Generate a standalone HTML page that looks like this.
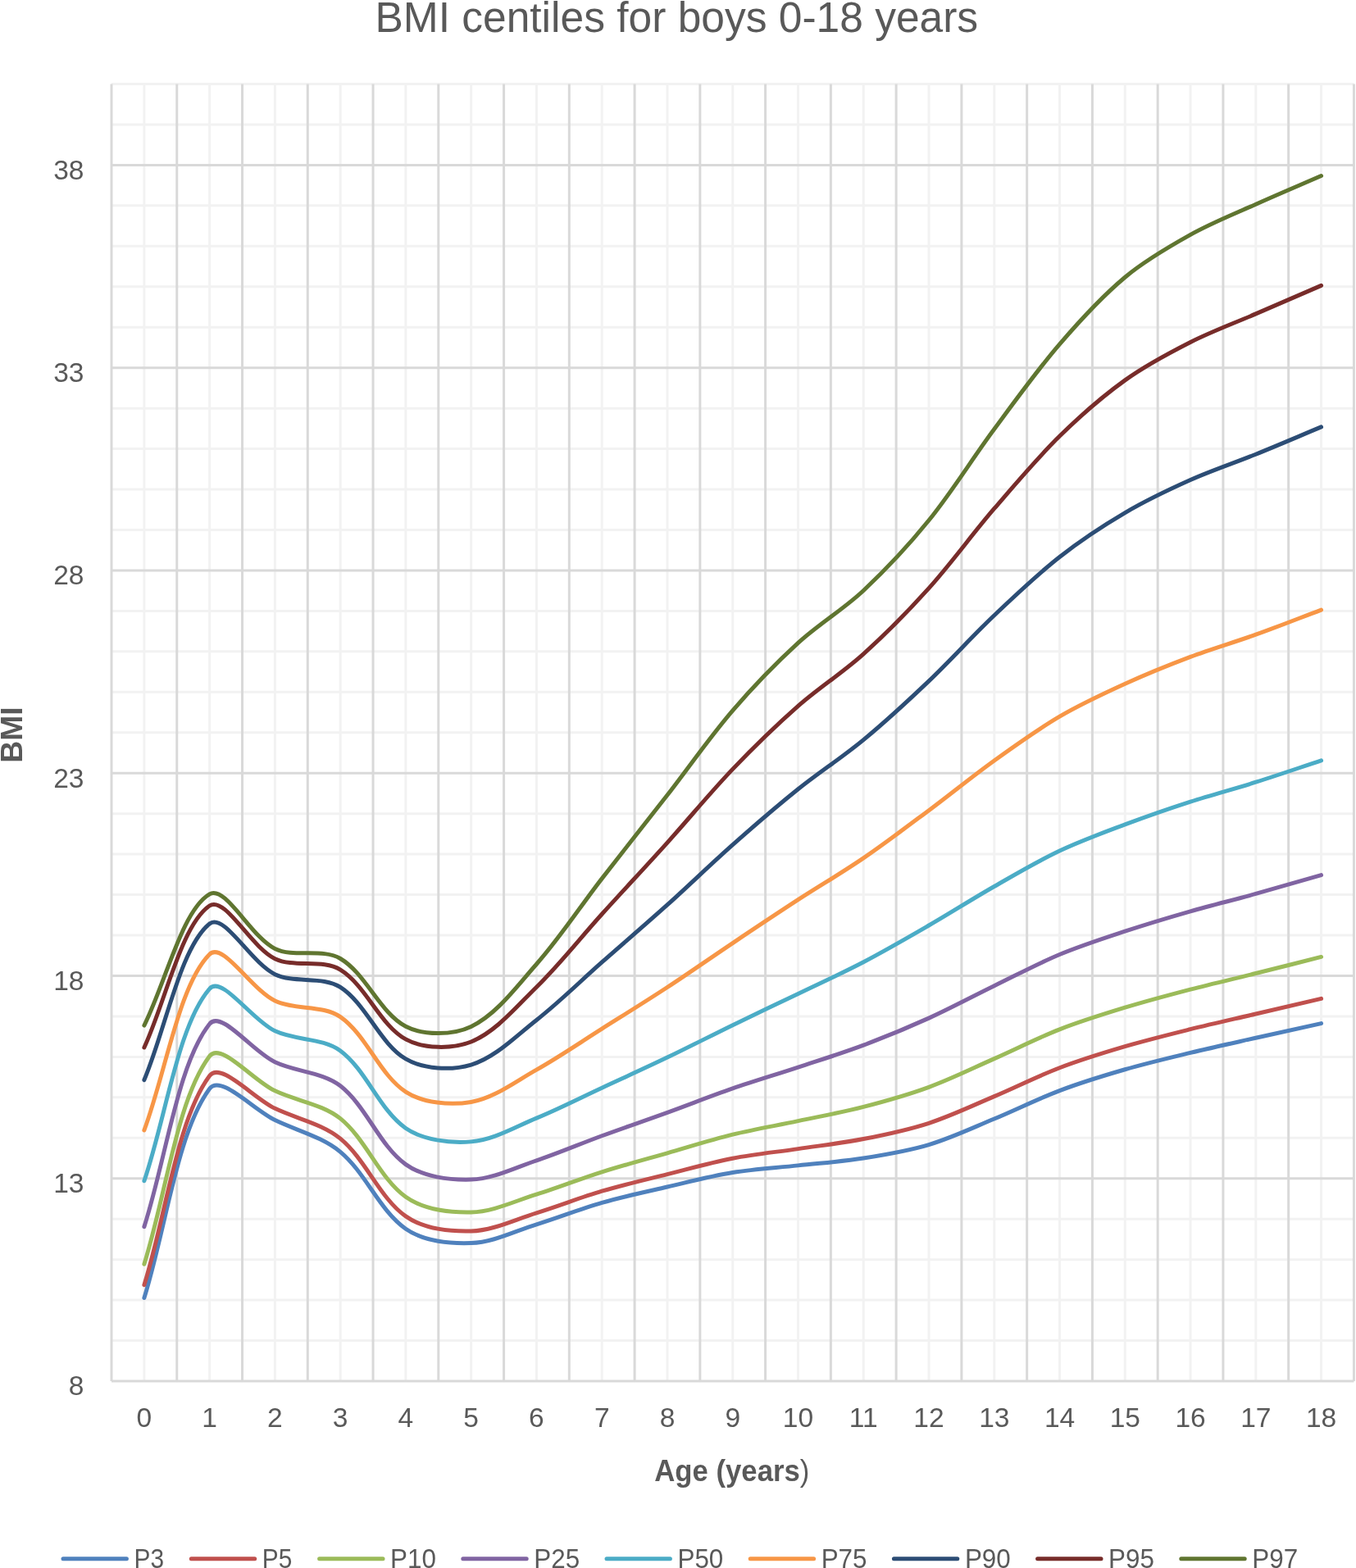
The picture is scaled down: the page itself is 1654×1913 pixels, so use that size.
<!DOCTYPE html>
<html lang="en"><head><meta charset="utf-8"><title>BMI centiles for boys 0-18 years</title>
<style>html,body{margin:0;padding:0;background:#fff}body{width:1654px;height:1913px;overflow:hidden}svg{display:block}text{font-family:"Liberation Sans",sans-serif;fill:#595959}</style></head><body>
<svg width="1654" height="1913" viewBox="0 0 1654 1913">
<rect width="1654" height="1913" fill="#fff"/>
<path d="M136 1635.55H1651.44M136 1586.09H1651.44M136 1536.64H1651.44M136 1487.19H1651.44M136 1388.28H1651.44M136 1338.83H1651.44M136 1289.38H1651.44M136 1239.92H1651.44M136 1141.02H1651.44M136 1091.56H1651.44M136 1042.11H1651.44M136 992.66H1651.44M136 893.75H1651.44M136 844.3H1651.44M136 794.85H1651.44M136 745.39H1651.44M136 646.49H1651.44M136 597.03H1651.44M136 547.58H1651.44M136 498.13H1651.44M136 399.22H1651.44M136 349.77H1651.44M136 300.32H1651.44M136 250.86H1651.44M136 151.96H1651.44M136 102.5H1651.44M175.88 102.5V1685M255.64 102.5V1685M335.4 102.5V1685M415.16 102.5V1685M494.92 102.5V1685M574.68 102.5V1685M654.44 102.5V1685M734.2 102.5V1685M813.96 102.5V1685M893.72 102.5V1685M973.48 102.5V1685M1053.24 102.5V1685M1133 102.5V1685M1212.76 102.5V1685M1292.52 102.5V1685M1372.28 102.5V1685M1452.04 102.5V1685M1531.8 102.5V1685M1611.56 102.5V1685" fill="none" stroke="#F2F2F2" stroke-width="3"/>
<path d="M136 1685H1651.44M136 1437.73H1651.44M136 1190.47H1651.44M136 943.2H1651.44M136 695.94H1651.44M136 448.67H1651.44M136 201.41H1651.44M136 102.5V1685M215.76 102.5V1685M295.52 102.5V1685M375.28 102.5V1685M455.04 102.5V1685M534.8 102.5V1685M614.56 102.5V1685M694.32 102.5V1685M774.08 102.5V1685M853.84 102.5V1685M933.6 102.5V1685M1013.36 102.5V1685M1093.12 102.5V1685M1172.88 102.5V1685M1252.64 102.5V1685M1332.4 102.5V1685M1412.16 102.5V1685M1491.92 102.5V1685M1571.68 102.5V1685M1651.44 102.5V1685" fill="none" stroke="#D9D9D9" stroke-width="3"/>
<path d="M175.88 1583.5C202.47 1498.41 215.69 1382.58 255.64 1328.23C268.86 1310.25 308.85 1353.69 335.4 1366.53C362.02 1379.4 392.9 1386.84 415.16 1405.36C446.07 1431.08 462.94 1476.93 494.92 1499.23C516.11 1514.01 548.31 1517.52 574.68 1516.62C601.48 1515.71 628.02 1501.96 654.44 1493.8C681.2 1485.53 707.3 1475.05 734.2 1467.33C760.47 1459.8 787.31 1454.18 813.96 1448.04C840.48 1441.93 866.9 1434.98 893.72 1430.58C920.07 1426.26 946.9 1424.8 973.48 1421.88C1000.07 1418.96 1026.85 1417.25 1053.24 1413.07C1080.02 1408.83 1107.1 1404.42 1133 1396.62C1160.28 1388.41 1186.34 1375.99 1212.76 1365.05C1239.52 1353.98 1265.46 1340.81 1292.52 1330.59C1318.63 1320.72 1345.45 1312.54 1372.28 1304.77C1398.62 1297.15 1425.37 1290.85 1452.04 1284.41C1478.54 1278.02 1505.2 1272.24 1531.8 1266.26C1558.37 1260.3 1584.97 1254.48 1611.56 1248.58" fill="none" stroke="#4F81BD" stroke-width="5" stroke-linecap="round" stroke-linejoin="round"/>
<path d="M175.88 1567.71C202.47 1482.64 215.76 1366.35 255.64 1312.52C268.94 1294.57 308.62 1339.49 335.4 1352.36C361.79 1365.03 393.1 1370.96 415.16 1389.16C446.27 1414.81 462.89 1461.26 494.92 1483.91C516.07 1498.87 548.25 1502.65 574.68 1501.98C601.43 1501.29 628.06 1487.88 654.44 1479.82C681.23 1471.63 707.34 1461.17 734.2 1453.22C760.52 1445.43 787.32 1439.26 813.96 1432.58C840.5 1425.93 866.89 1418.44 893.72 1413.23C920.07 1408.11 946.9 1405.54 973.48 1401.6C1000.08 1397.66 1026.88 1394.74 1053.24 1389.56C1080.06 1384.29 1107.06 1378.71 1133 1370.26C1160.24 1361.39 1186.31 1348.8 1212.76 1337.61C1239.48 1326.3 1265.45 1313.09 1292.52 1302.75C1318.62 1292.78 1345.46 1284.59 1372.28 1276.68C1398.64 1268.9 1425.36 1262.32 1452.04 1255.69C1478.54 1249.09 1505.21 1243.21 1531.8 1236.99C1558.38 1230.78 1584.97 1224.6 1611.56 1218.4" fill="none" stroke="#C0504D" stroke-width="5" stroke-linecap="round" stroke-linejoin="round"/>
<path d="M175.88 1542.28C202.47 1457.71 215.94 1341.18 255.64 1288.57C269.12 1270.7 308.26 1317.91 335.4 1330.86C361.44 1343.28 393.34 1346.95 415.16 1364.65C446.52 1390.09 462.85 1437.29 494.92 1460.27C516.02 1475.39 548.22 1479.46 574.68 1478.94C601.39 1478.42 628.11 1465.24 654.44 1457.14C681.28 1448.89 707.41 1438.33 734.2 1429.88C760.59 1421.55 787.35 1414.43 813.96 1406.81C840.53 1399.19 866.9 1390.75 893.72 1384.17C920.07 1377.7 946.92 1373.29 973.48 1367.66C1000.09 1362.01 1026.93 1357.16 1053.24 1350.34C1080.1 1343.37 1106.99 1335.86 1133 1326.28C1160.16 1316.28 1186.24 1303.31 1212.76 1291.6C1239.41 1279.84 1265.42 1266.47 1292.52 1255.87C1318.59 1245.68 1345.48 1237.41 1372.28 1229.23C1398.65 1221.17 1425.35 1214.12 1452.04 1207.14C1478.53 1200.22 1505.23 1194.15 1531.8 1187.54C1558.41 1180.92 1584.97 1174.14 1611.56 1167.45" fill="none" stroke="#9BBB59" stroke-width="5" stroke-linecap="round" stroke-linejoin="round"/>
<path d="M175.88 1496.62C202.47 1414.14 216.41 1298.58 255.64 1249.18C269.58 1231.63 307.69 1282.62 335.4 1295.76C360.87 1307.83 393.62 1307.96 415.16 1324.82C446.79 1349.58 462.82 1397.64 494.92 1420.64C516 1435.74 548.29 1439.92 574.68 1439.12C601.46 1438.31 628.19 1424.6 654.44 1415.82C681.37 1406.81 707.52 1395.53 734.2 1385.75C760.7 1376.04 787.43 1366.95 813.96 1357.34C840.6 1347.69 866.95 1337.23 893.72 1327.96C920.12 1318.82 946.95 1310.9 973.48 1302.12C1000.12 1293.3 1026.99 1285.02 1053.24 1275.14C1080.16 1265.02 1106.81 1254 1133 1242.11C1159.98 1229.86 1186.1 1215.7 1212.76 1202.73C1239.27 1189.84 1265.35 1175.87 1292.52 1164.53C1318.53 1153.69 1345.49 1145.04 1372.28 1136.19C1398.67 1127.47 1425.32 1119.51 1452.04 1111.85C1478.5 1104.26 1505.28 1097.82 1531.8 1090.45C1558.45 1083.06 1584.97 1075.2 1611.56 1067.58" fill="none" stroke="#8064A2" stroke-width="5" stroke-linecap="round" stroke-linejoin="round"/>
<path d="M175.88 1440.77C202.47 1362.61 217.21 1250.35 255.64 1206.28C270.38 1189.38 307.08 1244.41 335.4 1257.86C360.25 1269.66 393.74 1266.11 415.16 1282.03C446.92 1305.63 462.87 1354.16 494.92 1376.43C516.04 1391.11 548.63 1394.88 574.68 1392.87C601.8 1390.77 628.33 1374.85 654.44 1364.1C681.5 1352.96 707.63 1339.54 734.2 1327.22C760.8 1314.88 787.53 1302.81 813.96 1290.12C840.7 1277.29 867.05 1263.62 893.72 1250.63C920.22 1237.73 946.93 1225.24 973.48 1212.44C1000.1 1199.6 1027.06 1187.4 1053.24 1173.71C1080.23 1159.59 1106.62 1144.28 1133 1129.03C1159.79 1113.54 1185.88 1096.83 1212.76 1081.5C1239.06 1066.5 1265.2 1050.97 1292.52 1038.03C1318.38 1025.77 1345.46 1015.98 1372.28 1005.9C1398.63 996.01 1425.26 986.79 1452.04 978.12C1478.44 969.57 1505.33 962.57 1531.8 954.22C1558.51 945.81 1584.97 936.64 1611.56 927.85" fill="none" stroke="#4BACC6" stroke-width="5" stroke-linecap="round" stroke-linejoin="round"/>
<path d="M175.88 1378.94C202.47 1307.36 218.39 1201.1 255.64 1164.22C271.56 1148.46 306.48 1207.16 335.4 1221.01C359.66 1232.62 393.7 1225.66 415.16 1240.6C446.87 1262.68 462.99 1311.26 494.92 1332.05C516.16 1345.88 549.38 1348.75 574.68 1344.47C602.56 1339.76 628.6 1319.56 654.44 1305.09C681.78 1289.78 707.66 1271.86 734.2 1255.13C760.83 1238.34 787.63 1221.79 813.96 1204.53C840.8 1186.94 867.05 1168.43 893.72 1150.56C920.22 1132.81 946.74 1115.08 973.48 1097.7C999.91 1080.52 1027.22 1064.65 1053.24 1046.87C1080.4 1028.31 1106.62 1008.35 1133 988.67C1159.79 968.69 1185.62 947.39 1212.76 927.91C1238.79 909.22 1264.93 890.35 1292.52 874.16C1318.1 859.14 1345.25 846.61 1372.28 834.28C1398.43 822.36 1425.14 811.54 1452.04 801.4C1478.32 791.51 1505.37 783.7 1531.8 774.19C1558.54 764.57 1584.97 754.09 1611.56 744.04" fill="none" stroke="#F79646" stroke-width="5" stroke-linecap="round" stroke-linejoin="round"/>
<path d="M175.88 1317.57C202.47 1254.05 219.9 1155.89 255.64 1127.02C273.08 1112.92 305.96 1174.39 335.4 1188.66C359.14 1200.17 393.52 1190.36 415.16 1204.37C446.69 1224.79 463.19 1273.14 494.92 1291.97C516.36 1304.7 550.58 1306.2 574.68 1299.03C603.76 1290.38 629.14 1264.32 654.44 1244.48C682.31 1222.63 707.57 1197.42 734.2 1173.96C760.75 1150.58 787.65 1127.6 813.96 1103.95C840.82 1079.81 866.68 1054.55 893.72 1030.62C919.85 1007.5 946.28 984.63 973.48 962.8C999.45 941.96 1027.6 923.8 1053.24 902.59C1080.77 879.81 1107.11 855.48 1133 830.83C1160.28 804.85 1185.44 776.62 1212.76 750.69C1238.61 726.16 1264.53 701.38 1292.52 679.43C1317.7 659.68 1344.69 641.82 1372.28 625.58C1397.87 610.53 1424.91 597.68 1452.04 585.54C1478.09 573.89 1505.33 564.94 1531.8 554.22C1558.5 543.41 1584.97 532.02 1611.56 520.93" fill="none" stroke="#2C4D75" stroke-width="5" stroke-linecap="round" stroke-linejoin="round"/>
<path d="M175.88 1278.01C202.47 1220.35 221.09 1128.5 255.64 1105.03C274.26 1092.38 305.66 1155.09 335.4 1169.64C358.83 1181.12 393.36 1169.69 415.16 1183.12C446.53 1202.45 463.38 1250.55 494.92 1267.92C516.55 1279.83 551.59 1280.19 574.68 1270.97C604.77 1258.96 629.69 1228.37 654.44 1204.21C682.87 1176.46 707.47 1144.77 734.2 1115.25C760.64 1086.05 787.58 1057.3 813.96 1028.05C840.75 998.34 866.08 967.25 893.72 938.37C919.25 911.7 945.79 885.8 973.48 861.41C998.96 838.96 1028.03 820.57 1053.24 797.84C1081.2 772.64 1107.81 745.62 1133 717.62C1160.98 686.5 1185.45 652.24 1212.76 620.49C1238.63 590.4 1264.26 559.84 1292.52 532.09C1317.43 507.63 1343.98 484.19 1372.28 463.85C1397.15 445.97 1424.66 431.36 1452.04 417.46C1477.83 404.37 1505.21 394.4 1531.8 382.88C1558.38 371.37 1584.97 359.86 1611.56 348.35" fill="none" stroke="#772C2A" stroke-width="5" stroke-linecap="round" stroke-linejoin="round"/>
<path d="M175.88 1251.1C202.47 1197.69 221.99 1110.62 255.64 1090.86C275.17 1079.39 305.47 1142.67 335.4 1157.43C358.64 1168.88 393.23 1156.45 415.16 1169.49C446.41 1188.07 463.53 1235.96 494.92 1252.28C516.7 1263.6 552.36 1263.04 574.68 1252.4C605.54 1237.69 630.17 1203.7 654.44 1176.24C683.35 1143.52 707.4 1106.49 734.2 1071.85C760.58 1037.76 787.49 1004.09 813.96 970.07C840.66 935.77 865.43 899.81 893.72 866.88C918.61 837.91 945.36 810.2 973.48 784.4C998.53 761.4 1028.45 743.72 1053.24 720.48C1081.63 693.86 1108.49 665.06 1133 634.8C1161.66 599.41 1185.57 560.17 1212.76 523.53C1238.74 488.52 1264.12 452.83 1292.52 419.84C1317.29 391.06 1343.28 362.48 1372.28 338.22C1396.45 318 1424.42 301.8 1452.04 286.4C1477.59 272.14 1505.06 261.28 1531.8 249.23C1558.23 237.32 1584.97 226.09 1611.56 214.52" fill="none" stroke="#5F7530" stroke-width="5" stroke-linecap="round" stroke-linejoin="round"/>
<text x="457.4" y="39" font-size="51" textLength="735.7" lengthAdjust="spacingAndGlyphs">BMI centiles for boys 0-18 years</text>
<text x="102.4" y="1702.3" font-size="33.5" text-anchor="end">8</text>
<text x="102.4" y="1455.03" font-size="33.5" text-anchor="end">13</text>
<text x="102.4" y="1207.77" font-size="33.5" text-anchor="end">18</text>
<text x="102.4" y="960.5" font-size="33.5" text-anchor="end">23</text>
<text x="102.4" y="713.24" font-size="33.5" text-anchor="end">28</text>
<text x="102.4" y="465.97" font-size="33.5" text-anchor="end">33</text>
<text x="102.4" y="218.71" font-size="33.5" text-anchor="end">38</text>
<text x="175.88" y="1741.1" font-size="33.5" text-anchor="middle">0</text>
<text x="255.64" y="1741.1" font-size="33.5" text-anchor="middle">1</text>
<text x="335.4" y="1741.1" font-size="33.5" text-anchor="middle">2</text>
<text x="415.16" y="1741.1" font-size="33.5" text-anchor="middle">3</text>
<text x="494.92" y="1741.1" font-size="33.5" text-anchor="middle">4</text>
<text x="574.68" y="1741.1" font-size="33.5" text-anchor="middle">5</text>
<text x="654.44" y="1741.1" font-size="33.5" text-anchor="middle">6</text>
<text x="734.2" y="1741.1" font-size="33.5" text-anchor="middle">7</text>
<text x="813.96" y="1741.1" font-size="33.5" text-anchor="middle">8</text>
<text x="893.72" y="1741.1" font-size="33.5" text-anchor="middle">9</text>
<text x="973.48" y="1741.1" font-size="33.5" text-anchor="middle">10</text>
<text x="1053.24" y="1741.1" font-size="33.5" text-anchor="middle">11</text>
<text x="1133" y="1741.1" font-size="33.5" text-anchor="middle">12</text>
<text x="1212.76" y="1741.1" font-size="33.5" text-anchor="middle">13</text>
<text x="1292.52" y="1741.1" font-size="33.5" text-anchor="middle">14</text>
<text x="1372.28" y="1741.1" font-size="33.5" text-anchor="middle">15</text>
<text x="1452.04" y="1741.1" font-size="33.5" text-anchor="middle">16</text>
<text x="1531.8" y="1741.1" font-size="33.5" text-anchor="middle">17</text>
<text x="1611.56" y="1741.1" font-size="33.5" text-anchor="middle">18</text>
<text x="798.3" y="1806.8" font-size="37.5" textLength="189" lengthAdjust="spacingAndGlyphs"><tspan font-weight="bold">Age (years</tspan>)</text>
<text transform="translate(27 896.6) rotate(-90)" font-size="37.5" font-weight="bold" text-anchor="middle" textLength="68.5" lengthAdjust="spacingAndGlyphs">BMI</text>
<path d="M77 1901.8H154.4" stroke="#4F81BD" stroke-width="5" stroke-linecap="round" fill="none"/>
<text x="163.5" y="1912.7" font-size="33.5" textLength="36.5" lengthAdjust="spacingAndGlyphs">P3</text>
<path d="M233.3 1901.8H310.7" stroke="#C0504D" stroke-width="5" stroke-linecap="round" fill="none"/>
<text x="319.8" y="1912.7" font-size="33.5" textLength="36.5" lengthAdjust="spacingAndGlyphs">P5</text>
<path d="M389.6 1901.8H467" stroke="#9BBB59" stroke-width="5" stroke-linecap="round" fill="none"/>
<text x="476.1" y="1912.7" font-size="33.5" textLength="55.8" lengthAdjust="spacingAndGlyphs">P10</text>
<path d="M564.8 1901.8H642.2" stroke="#8064A2" stroke-width="5" stroke-linecap="round" fill="none"/>
<text x="651.3" y="1912.7" font-size="33.5" textLength="55.8" lengthAdjust="spacingAndGlyphs">P25</text>
<path d="M740 1901.8H817.4" stroke="#4BACC6" stroke-width="5" stroke-linecap="round" fill="none"/>
<text x="826.5" y="1912.7" font-size="33.5" textLength="55.8" lengthAdjust="spacingAndGlyphs">P50</text>
<path d="M915.2 1901.8H992.6" stroke="#F79646" stroke-width="5" stroke-linecap="round" fill="none"/>
<text x="1001.7" y="1912.7" font-size="33.5" textLength="55.8" lengthAdjust="spacingAndGlyphs">P75</text>
<path d="M1090.4 1901.8H1167.8" stroke="#2C4D75" stroke-width="5" stroke-linecap="round" fill="none"/>
<text x="1176.9" y="1912.7" font-size="33.5" textLength="55.8" lengthAdjust="spacingAndGlyphs">P90</text>
<path d="M1265.6 1901.8H1343" stroke="#772C2A" stroke-width="5" stroke-linecap="round" fill="none"/>
<text x="1352.1" y="1912.7" font-size="33.5" textLength="55.8" lengthAdjust="spacingAndGlyphs">P95</text>
<path d="M1440.8 1901.8H1518.2" stroke="#5F7530" stroke-width="5" stroke-linecap="round" fill="none"/>
<text x="1527.3" y="1912.7" font-size="33.5" textLength="55.8" lengthAdjust="spacingAndGlyphs">P97</text>
</svg></body></html>
